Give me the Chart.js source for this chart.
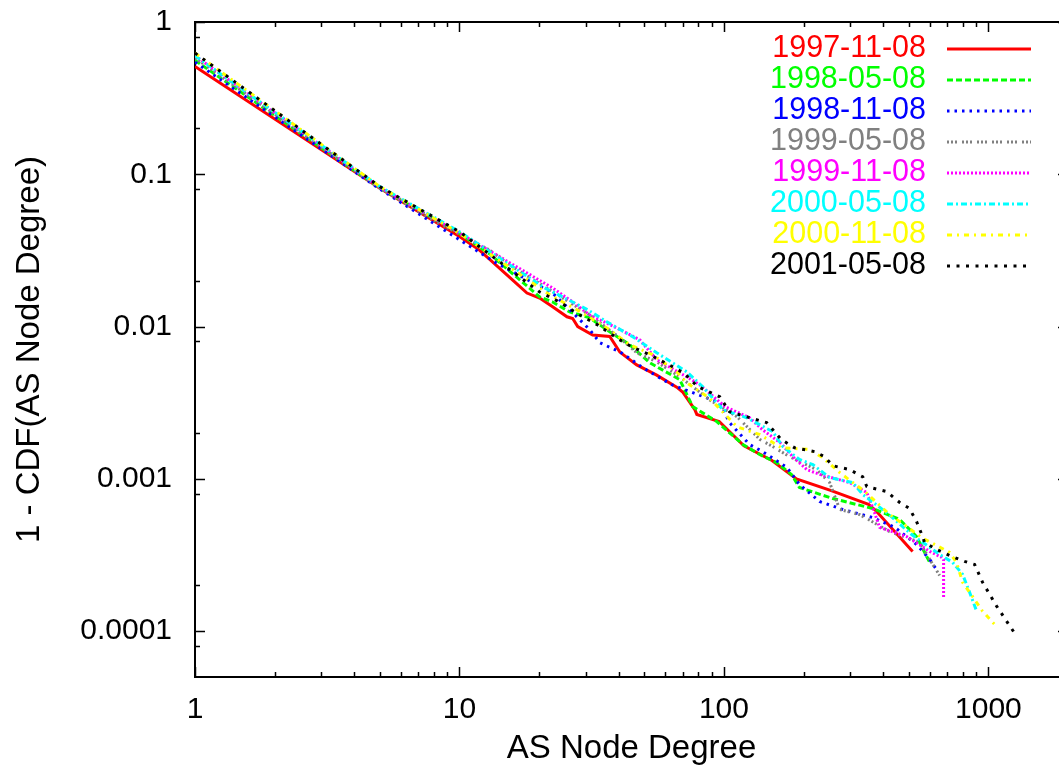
<!DOCTYPE html>
<html>
<head>
<meta charset="utf-8">
<style>
  html, body { margin: 0; padding: 0; background: #fff; overflow: hidden; }
  #wrap { width: 1080px; height: 772px; }
</style>
</head>
<body>
<div id="wrap"><canvas id="myChart" width="1080" height="772"></canvas></div>
<script src="https://cdn.jsdelivr.net/npm/chart.js"></script>
<script>
// snapshot dates (legend order)
const snapshots = ['1997-11-08', '1998-05-08', '1998-11-08', '1999-05-08',
                   '1999-11-08', '2000-05-08', '2000-11-08', '2001-05-08'];

// tick labels
const xTickLabels = ['1', '10', '100', '1000'];
const yTickLabels = ['0.0001', '0.001', '0.01', '0.1', '1'];

// degree / 1-CDF pairs, one pair of arrays per snapshot
const deg1997_11 = [1, 5, 10, 11.9, 15.9, 18, 20.1, 22.5, 25.5, 26.8, 28, 31.9, 37, 40.4, 46.8, 55.7, 66.3, 70, 77.6, 79, 96, 119, 152, 188, 253, 352, 375, 517];
const cdf1997_11 = [0.511, 0.081, 0.039, 0.0318, 0.0202, 0.0166, 0.0154, 0.0135, 0.0116, 0.0113, 0.0100, 0.0088, 0.0086, 0.0068, 0.0056, 0.0048, 0.0040, 0.0037, 0.00285, 0.00265, 0.00238, 0.00165, 0.00132, 0.0010, 0.00084, 0.00068, 0.00062, 0.000334];

const deg1998_05 = [1, 5, 10, 13, 20.1, 22.5, 26.1, 31.1, 37, 44.1, 52.5, 68.1, 76.2, 93.9, 118, 137, 158, 180, 193, 258, 365, 462, 535, 600];
const cdf1998_05 = [0.56, 0.081, 0.041, 0.030, 0.01567, 0.0145, 0.01248, 0.0114, 0.00923, 0.00759, 0.00578, 0.00448, 0.00298, 0.00238, 0.00168, 0.00144, 0.00128, 0.00107, 0.000877, 0.000743, 0.000639, 0.000541, 0.000418, 0.000283];

const deg1998_11 = [1, 5, 9.78, 13.8, 22.5, 25.7, 31.1, 34, 40.4, 44.8, 49.3, 63.5, 96.4, 105, 125, 140, 173, 193, 230, 281, 365, 443, 535, 600, 643];
const cdf1998_11 = [0.545, 0.080, 0.0381, 0.0261, 0.0166, 0.0133, 0.00953, 0.00782, 0.00683, 0.00605, 0.00537, 0.00415, 0.00316, 0.00234, 0.00168, 0.00151, 0.00119, 0.000918, 0.00071, 0.00063, 0.000557, 0.00048, 0.000371, 0.000296, 0.000247];

const deg1999_05 = [1, 5, 7.94, 13, 15.9, 21.4, 31.1, 40.4, 46.8, 55.7, 68.1, 88.4, 112, 137, 153, 177, 224, 251, 274, 326, 423, 550, 600, 654];
const cdf1999_05 = [0.58, 0.081, 0.05, 0.0318, 0.0246, 0.01794, 0.0119, 0.00843, 0.00673, 0.00587, 0.00468, 0.0033, 0.00256, 0.00181, 0.00163, 0.0014, 0.00115, 0.000946, 0.00063, 0.000583, 0.000451, 0.000383, 0.000296, 0.000232];

const deg1999_11 = [1, 5, 10, 18, 22.5, 26.8, 31.1, 39.3, 48.1, 55.7, 72.3, 81, 101, 125, 140, 163, 182, 206, 230, 299, 347, 371, 388, 491, 600, 666, 677, 677];
const cdf1999_11 = [0.60, 0.082, 0.0411, 0.0225, 0.01794, 0.0145, 0.0119, 0.0098, 0.00818, 0.00605, 0.00468, 0.00415, 0.00298, 0.00252, 0.0021, 0.00173, 0.0014, 0.00115, 0.00107, 0.000946, 0.000813, 0.000601, 0.00048, 0.000418, 0.000334, 0.000305, 0.000296, 0.000167];

const deg2000_05 = [1, 5, 10, 21, 26.8, 30.6, 36.1, 45.2, 55.7, 72.3, 83.2, 99, 122, 153, 167, 193, 217, 251, 307, 335, 412, 513, 654, 732, 799, 849, 903];
const cdf2000_05 = [0.60, 0.083, 0.042, 0.01794, 0.0145, 0.01286, 0.01074, 0.00857, 0.00673, 0.00505, 0.00403, 0.00285, 0.00252, 0.00204, 0.00163, 0.00134, 0.00124, 0.00102, 0.000946, 0.000789, 0.000601, 0.000431, 0.000319, 0.000283, 0.000236, 0.00018, 0.000135];

const deg2000_11 = [1, 5, 10, 22, 27.8, 36.1, 44.1, 53.8, 66.3, 72.3, 88, 112, 137, 165, 211, 236, 274, 307, 341, 378, 423, 491, 559, 626, 713, 758, 799, 871, 951, 1055];
const cdf2000_11 = [0.625, 0.083, 0.041, 0.01614, 0.01288, 0.0098, 0.00759, 0.00653, 0.00505, 0.00428, 0.0034, 0.0022, 0.00195, 0.0016, 0.00156, 0.00138, 0.0011, 0.000946, 0.000826, 0.0007, 0.000583, 0.000487, 0.000412, 0.000371, 0.000329, 0.000283, 0.000209, 0.000169, 0.000135, 0.000111];

const deg2001_05 = [1, 5, 10, 20.1, 23.9, 28.5, 33.3, 39.3, 44.8, 52.5, 64.1, 71.1, 79.6, 96.4, 105, 145, 165, 185, 220, 240, 258, 299, 335, 347, 412, 462, 503, 535, 564, 574, 637, 713, 813, 887, 951, 1074, 1279];
const cdf2001_05 = [0.625, 0.083, 0.042, 0.01687, 0.0145, 0.0119, 0.01026, 0.00843, 0.00736, 0.00653, 0.00544, 0.0049, 0.00403, 0.00346, 0.00276, 0.00234, 0.00181, 0.0016, 0.00151, 0.0014, 0.00122, 0.00115, 0.00103, 0.00089, 0.000826, 0.0007, 0.000639, 0.000525, 0.000418, 0.000382, 0.000344, 0.000314, 0.000287, 0.000274, 0.000209, 0.000146, 0.0000926];

const degrees = [deg1997_11, deg1998_05, deg1998_11, deg1999_05, deg1999_11, deg2000_05, deg2000_11, deg2001_05];
const cdfs    = [cdf1997_11, cdf1998_05, cdf1998_11, cdf1999_05, cdf1999_11, cdf2000_05, cdf2000_11, cdf2001_05];

// gnuplot-like line types
const colors = ['#ff0000', '#00ff00', '#0000ff', '#808080', '#ff00ff', '#00ffff', '#ffff00', '#000000'];
const dashes = [[], [6, 3], [2.5, 5], [2, 2, 2, 2, 2, 5], [2, 2], [6, 3, 2, 3], [5, 5, 2, 5], [3, 6.5]];

const FONT = '"Liberation Sans", Arial, Helvetica, sans-serif';

// border + inward ticks on all four sides
const frame = {
  id: 'frame',
  beforeDatasetsDraw(chart) {
    const ctx = chart.ctx, a = chart.chartArea;
    const xs = chart.scales.x, ys = chart.scales.y;
    ctx.save();
    ctx.strokeStyle = '#000';
    ctx.lineWidth = 1.5;
    ctx.beginPath();
    const xt = (v, len) => {
      const p = Math.round(xs.getPixelForValue(v)) + 0.5;
      ctx.moveTo(p, a.bottom); ctx.lineTo(p, a.bottom - len);
      ctx.moveTo(p, a.top); ctx.lineTo(p, a.top + len);
    };
    const yt = (v, len) => {
      const p = Math.round(ys.getPixelForValue(v)) + 0.5;
      ctx.moveTo(a.left, p); ctx.lineTo(a.left + len, p);
      ctx.moveTo(a.right, p); ctx.lineTo(a.right - len, p);
    };
    xTickLabels.forEach(t => xt(Number(t), 10));
    for (let n = 0; n <= 3; n++) {
      for (let k = 2; k <= 9; k++) {
        const v = k * Math.pow(10, n);
        if (v < xs.max) xt(v, 5);
      }
    }
    yTickLabels.forEach(t => yt(Number(t), 10));
    for (let n = -5; n <= -1; n++) {
      [2, 8].forEach(k => {
        const v = k * Math.pow(10, n);
        if (v > ys.min && v < ys.max) yt(v, 5);
      });
    }
    ctx.stroke();
    ctx.lineWidth = 2;
    ctx.strokeRect(a.left, a.top, a.right - a.left, a.bottom - a.top);
    ctx.restore();
  }
};

// gnuplot style key: right aligned coloured text, then a line sample
const key = {
  id: 'key',
  afterDatasetsDraw(chart) {
    const ctx = chart.ctx;
    ctx.save();
    ctx.font = '30.5px ' + FONT;
    ctx.textAlign = 'right';
    ctx.textBaseline = 'middle';
    chart.data.datasets.forEach((ds, i) => {
      const y = 49 + i * 31;
      ctx.fillStyle = ds.borderColor;
      ctx.fillText(ds.label, 926, y);
      ctx.strokeStyle = ds.borderColor;
      ctx.lineWidth = ds.borderWidth;
      ctx.setLineDash(ds.borderDash);
      ctx.beginPath();
      ctx.moveTo(947, y);
      ctx.lineTo(1031, y);
      ctx.stroke();
    });
    ctx.restore();
  }
};

const ctx = document.getElementById('myChart').getContext('2d');

const chart = new Chart(ctx, {
  type: 'line',
  data: {
    datasets: snapshots.map((name, i) => ({
      label: name,
      data: degrees[i].map((d, j) => ({ x: d, y: cdfs[i][j] })),
      borderColor: colors[i],
      backgroundColor: colors[i],
      borderDash: dashes[i],
      borderWidth: 3,
      pointRadius: 0,
      tension: 0,
      fill: false,
      order: snapshots.length - i
    }))
  },
  options: {
    responsive: false,
    animation: false,
    events: [],
    layout: { padding: { left: 0, right: 12, top: 22, bottom: 0 } },
    plugins: {
      legend: { display: false },
      tooltip: { enabled: false }
    },
    scales: {
      x: {
        type: 'logarithmic',
        position: 'bottom',
        min: 1,
        max: 2000,
        grid: { display: false, drawTicks: false },
        border: { display: false },
        afterBuildTicks: s => { s.ticks = xTickLabels.map(t => ({ value: Number(t) })); },
        afterFit: s => { s.height = 95; s.paddingLeft = 0; s.paddingRight = 0; },
        ticks: {
          autoSkip: false,
          maxRotation: 0,
          padding: 15,
          color: '#000',
          font: { family: FONT, size: 30 },
          callback: (v, i) => xTickLabels[i]
        },
        title: {
          display: true,
          text: 'AS Node Degree',
          color: '#000',
          font: { family: FONT, size: 33 },
          padding: { top: 0, bottom: 3 }
        }
      },
      y: {
        type: 'logarithmic',
        position: 'left',
        min: 0.00005,
        max: 1,
        grid: { display: false, drawTicks: false },
        border: { display: false },
        afterBuildTicks: s => { s.ticks = yTickLabels.map(t => ({ value: Number(t) })); },
        afterFit: s => { s.width = 195; s.paddingTop = 0; s.paddingBottom = 0; },
        ticks: {
          autoSkip: false,
          padding: 23,
          color: '#000',
          font: { family: FONT, size: 30 },
          callback: (v, i) => yTickLabels[i]
        },
        title: {
          display: true,
          text: '1 - CDF(AS Node Degree)',
          color: '#000',
          font: { family: FONT, size: 33 },
          padding: { top: 10, bottom: 0 }
        }
      }
    }
  },
  plugins: [frame, key]
});
</script>
</body>
</html>
